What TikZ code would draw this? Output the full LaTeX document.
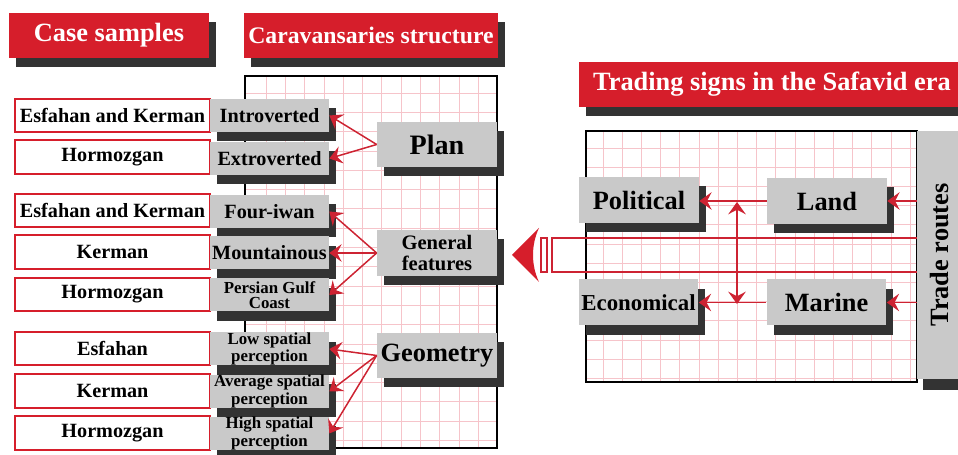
\documentclass[tikz,border=0pt]{standalone}
\usepackage{fontspec}
\setmainfont{Liberation Serif}
\usepackage{tikz}
\usetikzlibrary{shadows,arrows.meta}

\definecolor{titlered}{RGB}{214,30,43}
\definecolor{arrowred}{RGB}{205,35,50}
\definecolor{boxgray}{RGB}{201,201,201}
\definecolor{shadowgray}{RGB}{51,51,51}
\definecolor{gridpink}{RGB}{246,196,202}

\tikzset{
  boxshadow/.style={drop shadow={shadow xshift=0.14cm, shadow yshift=-0.19cm, fill=shadowgray, opacity=1}},
  titlebar/.style={fill=titlered, text=white, inner sep=0, minimum height=0.9cm,
    font=\fontsize{14.5}{17}\selectfont\bfseries, boxshadow},
  casebox/.style={draw=titlered, line width=0.9pt, fill=white, inner sep=0,
    minimum width=3.9cm, minimum height=0.67cm, font=\fontsize{11.5}{13}\selectfont\bfseries},
  featurebox/.style={fill=boxgray, inner sep=0, minimum width=2.38cm, minimum height=0.66cm,
    align=center, font=\fontsize{11.5}{13}\selectfont\bfseries, boxshadow},
  smallfeature/.style={featurebox, font=\fontsize{9.6}{8.4}\selectfont\bfseries},
  groupbox/.style={fill=boxgray, inner sep=0, minimum width=2.4cm, minimum height=0.9cm,
    align=center, font=\fontsize{16}{18}\selectfont\bfseries, boxshadow},
  signbox/.style={fill=boxgray, inner sep=0, minimum width=2.4cm, minimum height=0.92cm,
    font=\fontsize{15}{18}\selectfont\bfseries, boxshadow},
  gridline/.style={draw=gridpink, line width=0.4pt},
  redline/.style={draw=arrowred, line width=0.85pt},
  redarrow/.style={redline, -{Stealth[length=7pt, width=10pt, inset=2.6pt]}},
}

\begin{document}
\begin{tikzpicture}[x=0.02cm, y=-0.02cm]
        \useasboundingbox (0,0) rectangle (958,455);

        % Grid sheet behind the structure column
        \foreach \k in {0,...,11} \draw[gridline] ({266+19.3*\k},76) -- ({266+19.3*\k},448);
        \foreach \k in {0,...,18} \draw[gridline] (245,{93+19.3*\k}) -- (497,{93+19.3*\k});
        \draw[line width=0.9pt] (245,76) rectangle (497,448);

        % Grid sheet behind the trade column
        \foreach \k in {0,...,16} \draw[gridline] ({603+19.2*\k},131) -- ({603+19.2*\k},382);
        \foreach \k in {0,...,12} \draw[gridline] (586,{148+19.2*\k}) -- (917,{148+19.2*\k});
        \draw[line width=0.9pt] (586,131) rectangle (917,382);

        % Headings
        \node[titlebar, minimum width=4cm, font=\fontsize{15}{17}\selectfont\bfseries] (casetitle) at (109,35.5) {Case samples};
        \node[titlebar, minimum width=5.08cm, font=\fontsize{13.5}{16}\selectfont\bfseries] (structtitle) at (371,35.5) {Caravansaries structure};
        \node[titlebar, minimum width=7.72cm, font=\fontsize{15}{17}\selectfont\bfseries] (tradetitle) at (772,84.5) {Trading signs in the Safavid era};

        % Case samples
        \node[casebox] (case1) at (112.5,115.5) {Esfahan and Kerman};
        \node[casebox] (case2) at (112.5,157) {Hormozgan};
        \node[casebox] (case3) at (112.5,210.5) {Esfahan and Kerman};
        \node[casebox] (case4) at (112.5,252) {Kerman};
        \node[casebox] (case5) at (112.5,294.5) {Hormozgan};
        \node[casebox] (case6) at (112.5,348.5) {Esfahan};
        \node[casebox] (case7) at (112.5,391) {Kerman};
        \node[casebox] (case8) at (112.5,433) {Hormozgan};

        % Structure features
        \node[featurebox] (introverted) at (269.5,115.5) {Introverted};
        \node[featurebox] (extroverted) at (269.5,158.5) {Extroverted};
        \node[featurebox] (fouriwan) at (269.5,211.5) {Four-iwan};
        \node[featurebox] (mountainous) at (269.5,253) {Mountainous};
        \node[smallfeature] (gulfcoast) at (269.5,295) {Persian Gulf\\Coast};
        \node[smallfeature] (lowspatial) at (269.5,349) {Low spatial\\perception};
        \node[smallfeature] (avgspatial) at (269.5,391.5) {Average spatial\\perception};
        \node[smallfeature] (highspatial) at (269.5,433.5) {High spatial\\perception};

        % Structure groups
        \node[groupbox] (plan) at (437,144.5) {Plan};
        \node[groupbox, minimum height=0.92cm, font=\fontsize{11.7}{12.5}\selectfont\bfseries] (general) at (437,253) {General\\features};
        \node[groupbox, font=\fontsize{15}{18}\selectfont\bfseries] (geometry) at (437,355.5) {Geometry};

        \draw[redarrow] (plan.west) -- (introverted.east);
        \draw[redarrow] (plan.west) -- (extroverted.east);
        \draw[redarrow] (general.west) -- (fouriwan.east);
        \draw[redarrow] (general.west) -- (mountainous.east);
        \draw[redarrow] (general.west) -- (gulfcoast.east);
        \draw[redarrow] (geometry.west) -- (lowspatial.east);
        \draw[redarrow] (geometry.west) -- (avgspatial.east);
        \draw[redarrow] (geometry.west) -- (highspatial.east);

        % Trade routes and the signs they carry
        \node[fill=boxgray, inner sep=0, minimum width=0.92cm, minimum height=4.96cm,
              font=\fontsize{15}{18}\selectfont\bfseries,
              drop shadow={shadow xshift=0.12cm, shadow yshift=-0.22cm, fill=shadowgray, opacity=1}]
              (routes) at (940,255) {\rotatebox{90}{Trade routes}};
        \node[signbox] (political) at (639,200) {Political};
        \node[signbox] (land) at (827,201) {Land};
        \node[signbox, font=\fontsize{13}{16}\selectfont\bfseries] (economical) at (638.5,302.5) {Economical};
        \node[signbox] (marine) at (826.5,302.5) {Marine};

        \draw[redarrow] (routes.west |- land) -- (land.east);
        \draw[redarrow] (routes.west |- marine) -- (marine.east);
        \draw[redarrow] (land.west) -- (land.west -| political.east);
        \draw[redarrow] (marine.west) -- (marine.west -| economical.east);

        \coordinate (linktop) at (737,202);
        \coordinate (linkbot) at (737,304);
        \draw[redline, {Stealth[length=7pt, width=10pt, inset=2.6pt]}-{Stealth[length=7pt, width=10pt, inset=2.6pt]}] (linktop) -- (linkbot);

        % Channel back to the general features
        \coordinate (chtop) at (552,238);
        \coordinate (chbot) at (552,272);
        \draw[redline] (routes.west |- chtop) -- (chtop) -- (chbot) -- (routes.west |- chbot);
        \draw[redline, line width=0.7pt] (541,238) rectangle (547,272);
        \fill[titlered] (512,255) -- (539,228) .. controls (531,245) and (531,265) .. (539,282) -- cycle;
    \end{tikzpicture}
\end{document}
